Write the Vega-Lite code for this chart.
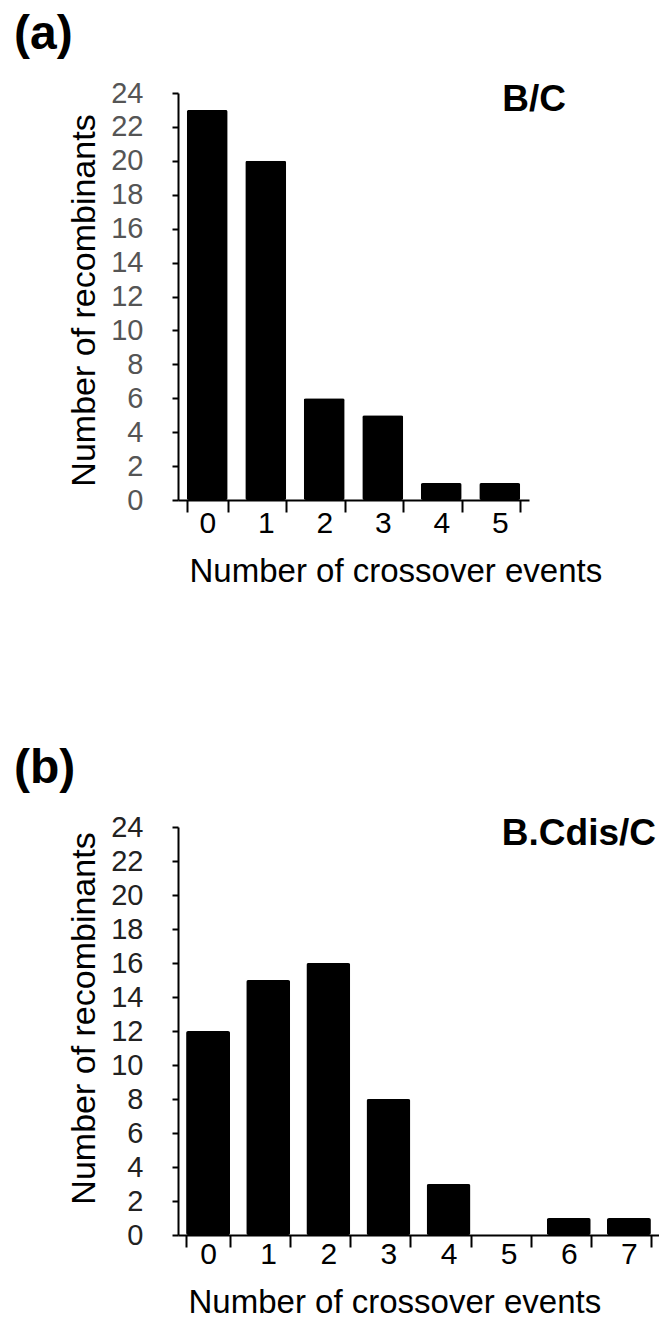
{
  "$schema": "https://vega.github.io/schema/vega-lite/v6.json",
  "background": "white",
  "padding": {"left": 13, "top": 11, "right": 0, "bottom": 0},
  "config": {
    "font": "Liberation Sans",
    "view": {"stroke": null},
    "concat": {"spacing": 157},
    "axis": {"grid": false, "domainColor": "black", "tickColor": "black", "domainWidth": 2, "tickWidth": 2}
  },
  "datasets": {
    "bc": [
      {"events": "0", "count": 23},
      {"events": "1", "count": 20},
      {"events": "2", "count": 6},
      {"events": "3", "count": 5},
      {"events": "4", "count": 1},
      {"events": "5", "count": 1}
    ],
    "bcdis": [
      {"events": "0", "count": 12},
      {"events": "1", "count": 15},
      {"events": "2", "count": 16},
      {"events": "3", "count": 8},
      {"events": "4", "count": 3},
      {"events": "5", "count": 0},
      {"events": "6", "count": 1},
      {"events": "7", "count": 1}
    ]
  },
  "vconcat": [
    {
      "title": {"text": "(a)", "fontSize": 48, "fontWeight": "bold", "anchor": "start", "frame": "bounds", "dx": -53, "color": "black", "offset": 20},
      "vconcat": [
        {
          "title": {"text": "B/C", "fontSize": 37, "fontWeight": "bold", "anchor": "end", "frame": "group", "dx": 37, "offset": -40, "color": "black"},
          "data": {"name": "bc"},
          "width": 351,
          "height": 407,
          "mark": {"type": "bar", "color": "black", "cornerRadius": 2},
          "encoding": {
            "x": {
              "field": "events", "type": "ordinal", "sort": null,
              "scale": {"paddingInner": 0.3, "paddingOuter": 0.15},
              "axis": {"title": "Number of crossover events", "labelAngle": 0, "labelFontSize": 30, "labelColor": "black", "tickSize": 12, "tickBand": "extent", "labelPadding": -4, "titleFontSize": 33, "titleFontWeight": "normal", "titleColor": "black", "titleAlign": "left", "titleAnchor": "start", "titleBaseline": "alphabetic", "titleX": 11, "titleY": 81}
            },
            "y": {
              "field": "count", "type": "quantitative",
              "scale": {"domain": [0, 24], "nice": false},
              "axis": {"title": "Number of recombinants", "values": [0, 2, 4, 6, 8, 10, 12, 14, 16, 18, 20, 22, 24], "labelFontSize": 29, "labelColor": "#555", "tickSize": 6, "labelPadding": 29, "titleFontSize": 34, "titleFontWeight": "normal", "titleColor": "black", "titleBaseline": "alphabetic", "titleX": -84, "titleY": 207}
            }
          }
        }
      ]
    },
    {
      "title": {"text": "(b)", "fontSize": 48, "fontWeight": "bold", "anchor": "start", "frame": "bounds", "dx": -53, "color": "black", "offset": 20},
      "vconcat": [
        {
          "title": {"text": "B.Cdis/C", "fontSize": 37, "fontWeight": "bold", "anchor": "end", "frame": "group", "dx": -3, "offset": -40, "color": "black"},
          "data": {"name": "bcdis"},
          "width": 481,
          "height": 408,
          "mark": {"type": "bar", "color": "black", "cornerRadius": 2},
          "encoding": {
            "x": {
              "field": "events", "type": "ordinal", "sort": null,
              "scale": {"paddingInner": 0.27, "paddingOuter": 0.135},
              "axis": {"title": "Number of crossover events", "labelAngle": 0, "labelFontSize": 30, "labelColor": "black", "tickSize": 12, "tickBand": "extent", "labelPadding": -8, "titleFontSize": 33, "titleFontWeight": "normal", "titleColor": "black", "titleAlign": "left", "titleAnchor": "start", "titleBaseline": "alphabetic", "titleX": 10, "titleY": 77}
            },
            "y": {
              "field": "count", "type": "quantitative",
              "scale": {"domain": [0, 24], "nice": false},
              "axis": {"title": "Number of recombinants", "values": [0, 2, 4, 6, 8, 10, 12, 14, 16, 18, 20, 22, 24], "labelFontSize": 29, "labelColor": "#222", "tickSize": 6, "labelPadding": 29, "titleFontSize": 34, "titleFontWeight": "normal", "titleColor": "black", "titleBaseline": "alphabetic", "titleX": -84, "titleY": 191}
            }
          }
        }
      ]
    }
  ]
}
